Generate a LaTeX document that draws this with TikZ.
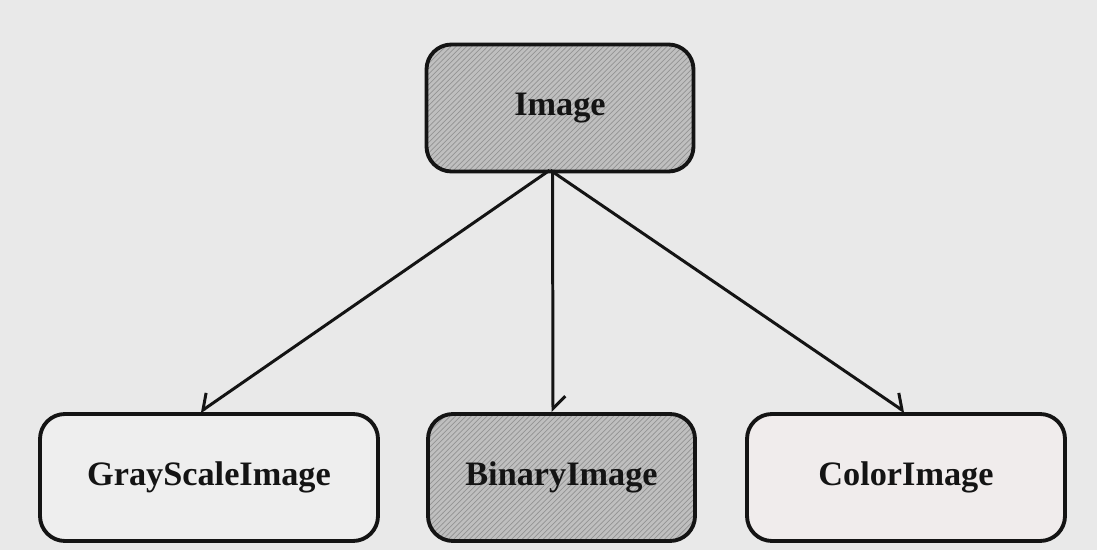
\documentclass[tikz,border=0pt]{standalone}
\usepackage{fontspec}
\setmainfont{Liberation Serif}
\usetikzlibrary{arrows.meta,patterns}
\definecolor{paper}{HTML}{E9E9E9}
\definecolor{boxpale}{HTML}{EEEEEE}
\definecolor{boxpink}{HTML}{F0ECEC}
\definecolor{ink}{HTML}{141414}
\tikzset{
  classbox/.style={draw=ink, line width=2.2pt, rounded corners=0.5cm, minimum height=2.54cm,
    font=\fontsize{19.5}{22}\selectfont\bfseries, text=ink},
  shaded/.style={classbox, preaction={fill=gray!50}, preaction={pattern=north east lines, pattern color=gray!85}},
  isa/.style={draw=ink, line width=1.7pt, -{Straight Barb[harpoon, length=7pt, width=14pt]}},
  isa swap/.style={draw=ink, line width=1.7pt, -{Straight Barb[harpoon, swap, length=7pt, width=14pt]}}
}
\newcommand{\drawclass}{\node[classbox]}
\newcommand{\drawshaded}{\node[shaded]}
\newcommand{\drawdummy}{\node[minimum size=0,inner sep=0]}

\begin{document}
\begin{tikzpicture}
\fill[paper] (0,0) rectangle (21.94,11);
\useasboundingbox (0,0) rectangle (21.94,11);
%base class and its three subclasses
\drawshaded (img) at (11.2,8.84) [minimum width=5.34cm] {Image};
\drawclass (gray) at (4.18,1.45) [minimum width=6.76cm, fill=boxpale] {GrayScaleImage};
\drawshaded (bin) at (11.23,1.45) [minimum width=5.34cm] {BinaryImage};
\drawclass (color) at (18.12,1.45) [minimum width=6.36cm, fill=boxpink] {ColorImage};
\drawdummy (hub) at (11.0,7.6) {};

\draw[isa swap] (hub) to ([xshift=-0.18cm]gray.north);
\draw[isa] ([xshift=0.05cm]hub.center) to ([xshift=-0.17cm]bin.north);
\draw[isa] (hub) to ([xshift=-0.02cm]color.north);
\end{tikzpicture}
\end{document}
